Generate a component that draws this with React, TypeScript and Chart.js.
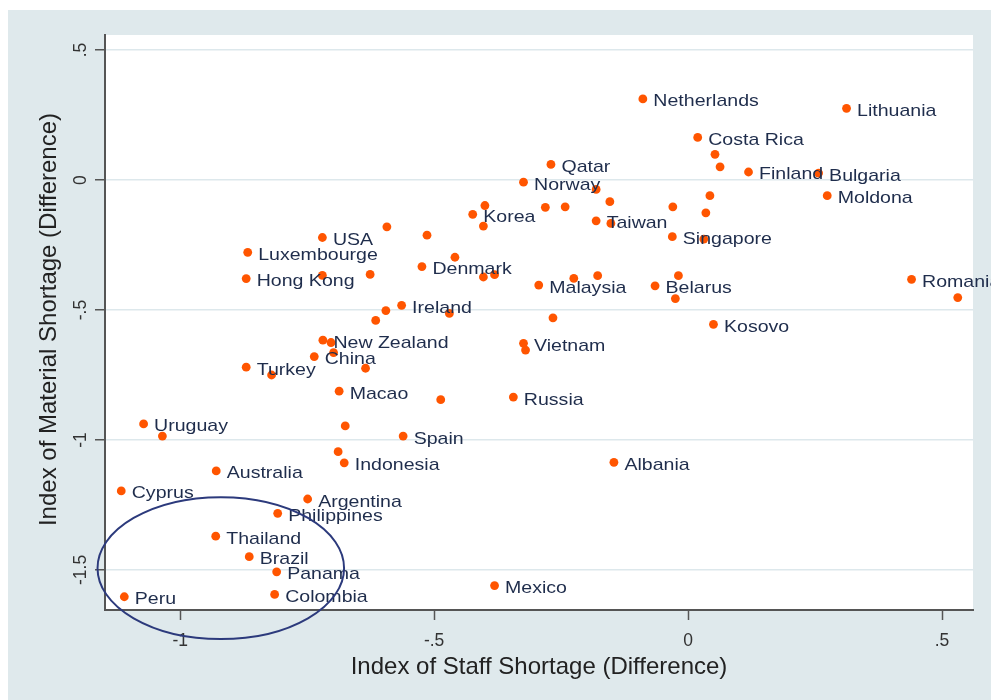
import React, { useEffect, useRef } from 'react';
import { Chart, registerables } from 'chart.js';

Chart.register(...registerables);

// ---- Data ----
const countries = [
  'Netherlands', 'Lithuania', 'Costa Rica', '', '', 'Finland', 'Bulgaria', 'Moldona', 'Qatar', 'Norway',
  '', '', '', '', '', '', '', '', 'Korea', '',
  'Taiwan', '', 'Singapore', '', 'USA', '', '', 'Luxembourge', 'Hong Kong', '',
  '', '', 'Denmark', '', '', 'Malaysia', '', '', 'Belarus', '',
  '', 'Romania', '', 'Ireland', '', '', '', '', 'Kosovo', 'New Zealand',
  '', 'China', '', '', 'Turkey', '', 'Vietnam', '', 'Macao', '',
  'Russia', 'Uruguay', '', '', 'Spain', '', 'Indonesia', 'Albania', 'Australia', 'Cyprus',
  'Argentina', 'Philippines', 'Thailand', 'Brazil', 'Panama', 'Peru', 'Colombia', 'Mexico',
];

const staffShortage = [
  -0.089, 0.312, 0.019, 0.053, 0.063, 0.119, 0.257, 0.274, -0.270, -0.324,
  -0.181, -0.154, -0.400, -0.281, -0.242, -0.030, 0.043, 0.035, -0.424, -0.403,
  -0.181, -0.152, -0.031, 0.031, -0.720, -0.593, -0.514, -0.867, -0.870, -0.720,
  -0.626, -0.459, -0.524, -0.403, -0.381, -0.294, -0.225, -0.178, -0.065, -0.019,
  -0.025, 0.440, 0.531, -0.564, -0.595, -0.615, -0.470, -0.266, 0.050, -0.719,
  -0.703, -0.736, -0.698, -0.635, -0.870, -0.820, -0.324, -0.320, -0.687, -0.487,
  -0.344, -1.072, -1.035, -0.675, -0.561, -0.689, -0.677, -0.146, -0.929, -1.116,
  -0.749, -0.808, -0.930, -0.864, -0.810, -1.110, -0.814, -0.381,
];

const materialShortage = [
  0.312, 0.276, 0.164, 0.099, 0.051, 0.031, 0.027, -0.060, 0.060, -0.008,
  -0.036, -0.083, -0.098, -0.105, -0.103, -0.103, -0.060, -0.126, -0.132, -0.177,
  -0.157, -0.167, -0.218, -0.227, -0.221, -0.180, -0.212, -0.278, -0.379, -0.367,
  -0.363, -0.297, -0.333, -0.373, -0.364, -0.404, -0.378, -0.368, -0.407, -0.368,
  -0.456, -0.382, -0.452, -0.482, -0.502, -0.540, -0.513, -0.530, -0.555, -0.616,
  -0.625, -0.679, -0.664, -0.724, -0.720, -0.750, -0.628, -0.654, -0.812, -0.845,
  -0.835, -0.938, -0.985, -0.946, -0.985, -1.045, -1.088, -1.086, -1.119, -1.196,
  -1.227, -1.282, -1.370, -1.449, -1.507, -1.603, -1.594, -1.560,
];

const xTicks = [-1, -0.5, 0, 0.5];
const yTicks = [-1.5, -1, -0.5, 0, 0.5];
const xRange = [-1.148, 0.561];
const yRange = [-1.654, 0.558];

const xTitle = 'Index of Staff Shortage (Difference)';
const yTitle = 'Index of Material Shortage (Difference)';

// highlighted group (ellipse), in data units: centre and radii
const ellipseCenter = [-0.92, -1.493];
const ellipseRadii = [0.2427, 0.273];

const FONT = "'Liberation Sans', Arial, Helvetica, sans-serif";

const fmt = (v: number) =>
  v === 0 ? '0' : (v < 0 ? '-' : '') + String(Math.abs(v)).replace(/^0\./, '.');

export default function App() {
  const canvasRef = useRef<HTMLCanvasElement | null>(null);

  useEffect(() => {
    const canvas = canvasRef.current;
    if (!canvas) return;

    const bgPlugin = {
      id: 'bg',
      beforeDraw(chart: any) {
        const { ctx, chartArea, width, height } = chart;
        ctx.save();
        ctx.fillStyle = '#ffffff';
        ctx.fillRect(0, 0, width, height);
        ctx.fillStyle = '#dfe9ec';
        ctx.fillRect(8, 10, width - 8, height - 10);
        ctx.fillStyle = '#ffffff';
        ctx.fillRect(chartArea.left, chartArea.top, chartArea.right - chartArea.left, chartArea.bottom - chartArea.top);
        ctx.restore();
      },
    };

    const labelPlugin = {
      id: 'labels',
      afterDatasetsDraw(chart: any) {
        const { ctx } = chart;
        const xs = chart.scales.x;
        const ys = chart.scales.y;
        ctx.save();
        ctx.font = `17px ${FONT}`;
        ctx.fillStyle = '#1f2d4c';
        ctx.textAlign = 'left';
        ctx.textBaseline = 'alphabetic';
        countries.forEach((name, i) => {
          if (!name) return;
          const px = xs.getPixelForValue(staffShortage[i]);
          const py = ys.getPixelForValue(materialShortage[i]);
          ctx.save();
          ctx.translate(px + 10.5, py + 7.5);
          ctx.scale(1.15, 1);
          ctx.fillText(name, 0, 0);
          ctx.restore();
        });
        ctx.restore();

        // ellipse
        const cx = xs.getPixelForValue(ellipseCenter[0]);
        const cy = ys.getPixelForValue(ellipseCenter[1]);
        const rx = Math.abs(xs.getPixelForValue(ellipseCenter[0] + ellipseRadii[0]) - cx);
        const ry = Math.abs(ys.getPixelForValue(ellipseCenter[1] + ellipseRadii[1]) - cy);
        ctx.save();
        ctx.strokeStyle = '#2c3a7c';
        ctx.lineWidth = 2;
        ctx.beginPath();
        ctx.ellipse(cx, cy, rx, ry, 0, 0, Math.PI * 2);
        ctx.stroke();
        ctx.restore();
      },
      afterDraw(chart: any) {
        const { ctx, chartArea } = chart;
        const ys = chart.scales.y;
        ctx.save();
        ctx.fillStyle = '#333333';
        ctx.font = `17.5px ${FONT}`;
        ctx.textAlign = 'center';
        ctx.textBaseline = 'alphabetic';
        yTicks.forEach((v) => {
          const py = ys.getPixelForValue(v);
          ctx.save();
          ctx.translate(chartArea.left - 19, py);
          ctx.rotate(-Math.PI / 2);
          ctx.fillText(fmt(v), 0, 0);
          ctx.restore();
        });
        ctx.fillStyle = '#222222';
        ctx.font = `24px ${FONT}`;
        ctx.fillText(xTitle, (chartArea.left + chartArea.right) / 2, chartArea.bottom + 64);
        ctx.save();
        ctx.translate(chartArea.left - 49, (chartArea.top + chartArea.bottom) / 2 - 3);
        ctx.rotate(-Math.PI / 2);
        ctx.fillText(yTitle, 0, 0);
        ctx.restore();
        ctx.restore();
      },
    };

    const chart = new Chart(canvas, {
      type: 'scatter',
      data: {
        datasets: [
          {
            data: staffShortage.map((s, i) => ({ x: s, y: materialShortage[i] })),
            pointRadius: 4.4,
            pointHoverRadius: 4.4,
            pointBackgroundColor: '#ff5500',
            pointBorderWidth: 0,
            pointBorderColor: '#ff5500',
          },
        ],
      },
      options: {
        animation: false,
        responsive: false,
        devicePixelRatio: 1,
        events: [],
        layout: { padding: { left: 0, top: 35, right: 18, bottom: 0 } },
        plugins: { legend: { display: false }, tooltip: { enabled: false } },
        scales: {
          x: {
            type: 'linear',
            min: xRange[0],
            max: xRange[1],
            afterBuildTicks: (s: any) => {
              s.ticks = xTicks.map((v) => ({ value: v }));
            },
            afterFit: (s: any) => {
              s.height = 90;
            },
            grid: {
              drawOnChartArea: false,
              drawTicks: true,
              tickLength: 10,
              tickColor: '#555555',
              tickWidth: 1.5,
            },
            border: { color: '#555555', width: 2 },
            ticks: {
              font: { family: FONT, size: 17.5 },
              color: '#333333',
              padding: 11,
              maxRotation: 0,
              autoSkip: false,
              callback: (v: any) => fmt(Number(v)),
            },
          },
          y: {
            type: 'linear',
            min: yRange[0],
            max: yRange[1],
            afterBuildTicks: (s: any) => {
              s.ticks = yTicks.map((v) => ({ value: v }));
            },
            afterFit: (s: any) => {
              s.width = 105;
            },
            grid: {
              color: '#dde8ec',
              lineWidth: 1.5,
              drawTicks: true,
              tickLength: 10,
              tickColor: '#555555',
              tickWidth: 1.5,
            },
            border: { color: '#555555', width: 2 },
            ticks: { display: false },
          },
        },
      },
      plugins: [bgPlugin, labelPlugin],
    } as any);

    return () => chart.destroy();
  }, []);

  return (
    <div style={{ position: 'fixed', left: 0, top: 0, width: 991, height: 700 }}>
      <canvas ref={canvasRef} width={991} height={700} style={{ width: 991, height: 700, display: 'block' }} />
    </div>
  );
}
